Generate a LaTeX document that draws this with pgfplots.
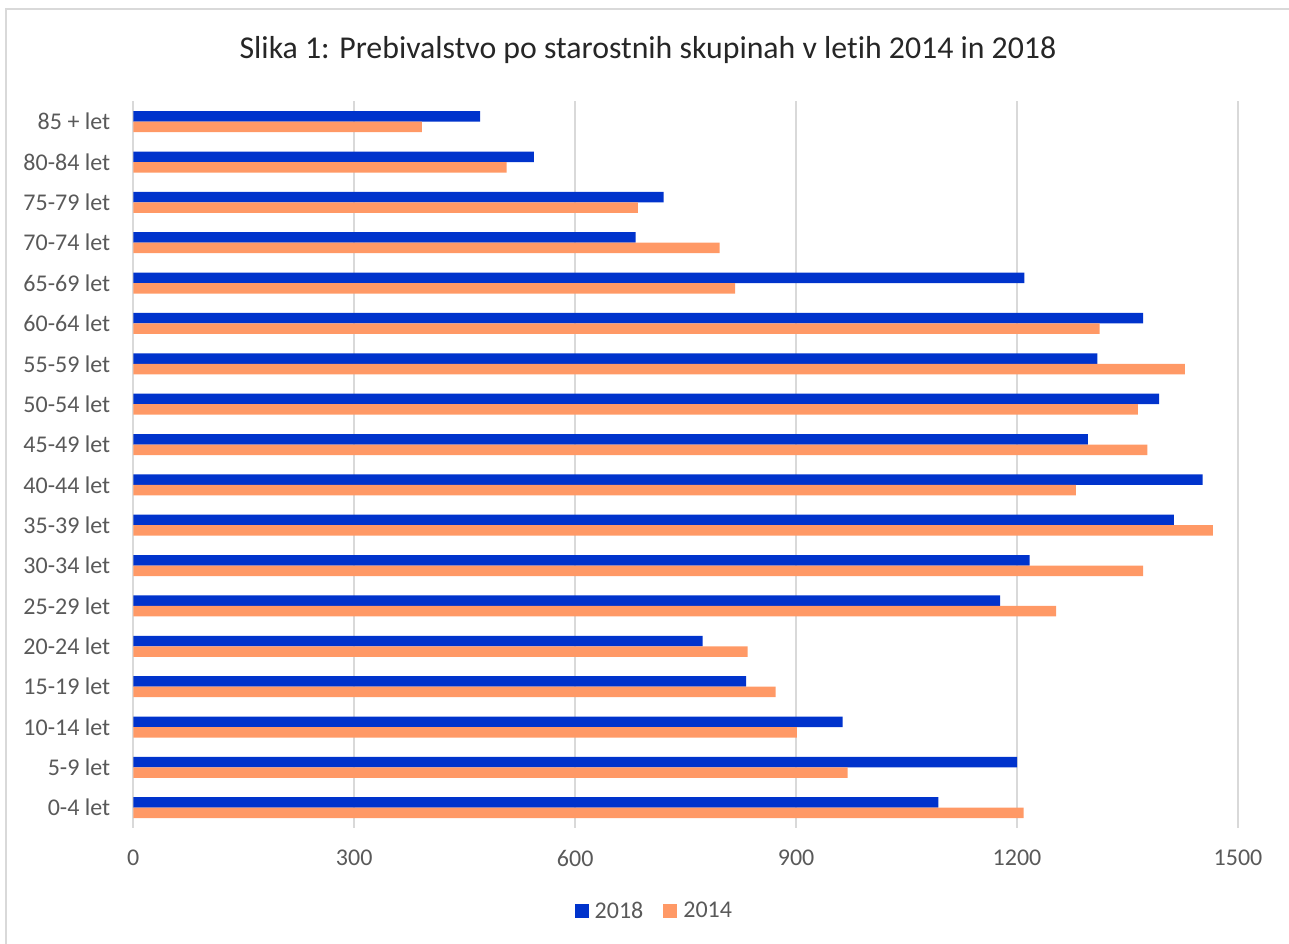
\documentclass[border=0pt]{standalone}
\usepackage{fontspec}
\setmainfont{Carlito}[Ligatures=NoCommon]
\usepackage{pgfplots}
\pgfplotsset{compat=1.18}
\definecolor{blue18}{HTML}{0033CC}
\definecolor{orange14}{HTML}{FF9966}
\definecolor{txtgray}{HTML}{595959}
\definecolor{gridgray}{HTML}{D9D9D9}
\begin{document}
\begin{tikzpicture}
% 1 px of the reference = 0.5pt
\useasboundingbox (0pt,0pt) rectangle (644.5pt,471.5pt);
% outer frame (only left and top edges are visible)
\draw[gridgray, line width=1pt] (3pt,-20pt) -- (3pt,466.75pt) -- (660pt,466.75pt);
\node[font=\fontsize{15.9pt}{18pt}\selectfont, text=black!85] at (324pt,446.5pt)
  {Slika 1: Prebivalstvo po starostnih skupinah v letih 2014 in 2018};
\begin{axis}[
    at={(66.65pt,57.55pt)}, anchor=south west,
    scale only axis,
    width=552.35pt, height=363.2pt,
    xbar, bar width=5.25pt,
    xmin=0, xmax=1500,
    ymin=-0.5, ymax=17.5,
    xtick={0,300,...,1500},
    ytick={0,...,17},
    yticklabels={0-4 let,5-9 let,10-14 let,15-19 let,20-24 let,25-29 let,
      30-34 let,35-39 let,40-44 let,45-49 let,50-54 let,55-59 let,60-64 let,
      65-69 let,70-74 let,75-79 let,80-84 let,85 + let},
    major tick length=0pt,
    xmajorgrids, grid style={gridgray, line width=1pt},
    axis line style={draw=none},
    ticklabel style={font=\fontsize{12pt}{14pt}\selectfont, text=txtgray},
    xticklabel style={yshift=-7.5pt},
    yticklabel style={xshift=-8pt},
    /pgf/number format/assume math mode=true,
    /pgf/number format/1000 sep={},
    legend columns=2,
    legend style={at={(0.4735,-0.115)}, anchor=center, draw=none,
      font=\fontsize{12pt}{14pt}\selectfont, text=txtgray,
      /tikz/every even column/.append style={column sep=7pt},
      nodes={inner xsep=3pt}},
    legend image code/.code={\fill[#1] (0pt,-3.5pt) rectangle (7pt,3.5pt);},
]
\addplot[fill=blue18, draw=none, bar shift=2.625pt] coordinates {
    (1093,0) (1200,1) (963,2) (832,3) (773,4) (1177,5)
    (1217,6) (1413,7) (1452,8) (1296,9) (1393,10) (1309,11)
    (1371,12) (1210,13) (682,14) (720,15) (544,16) (471,17)
};
\addlegendentry{2018}
\addplot[fill=orange14, draw=none, bar shift=-2.625pt] coordinates {
    (1209,0) (970,1) (901,2) (872,3) (834,4) (1253,5)
    (1371,6) (1466,7) (1280,8) (1377,9) (1364,10) (1428,11)
    (1312,12) (817,13) (796,14) (685,15) (507,16) (392,17)
};
\addlegendentry{2014}
\end{axis}
\end{tikzpicture}
\end{document}
